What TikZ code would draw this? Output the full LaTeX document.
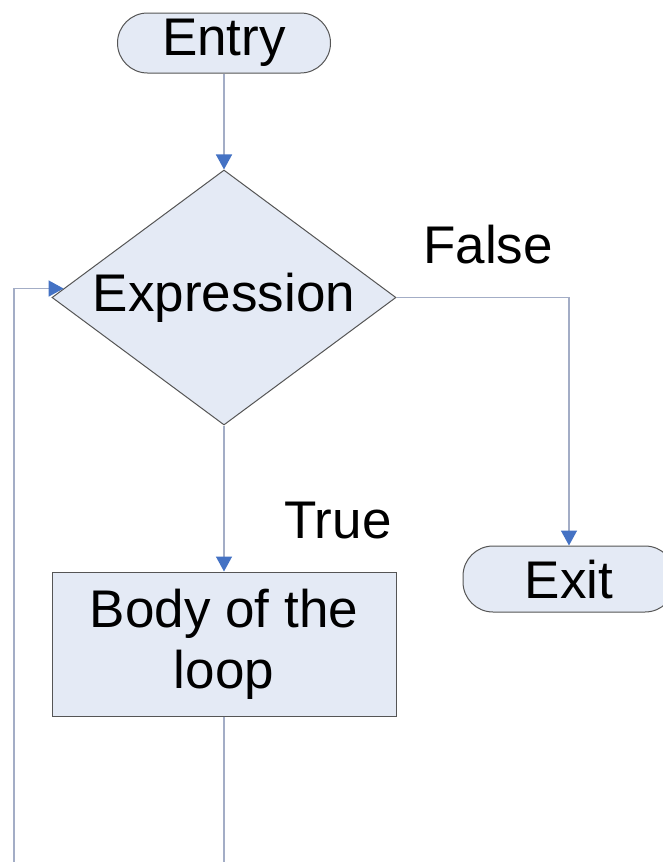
\documentclass[tikz,border=0pt]{standalone}
\usepackage{fontspec}
\setmainfont{Liberation Sans}
\usetikzlibrary{arrows.meta,shapes.geometric,calc}
\definecolor{boxfill}{HTML}{E4EAF5}
\definecolor{boxline}{HTML}{555555}
\definecolor{wire}{HTML}{A3ADC6}
\definecolor{tipblue}{HTML}{4472C4}
\tikzset{
  bigtext/.style={font=\fontsize{53}{61}\selectfont},
  terminal/.style={draw=boxline, fill=boxfill, line width=1pt, rounded corners=30pt,
    inner sep=0pt, bigtext},
  decision/.style={draw=boxline, fill=boxfill, line width=1pt, shape=diamond,
    shape aspect=1.35, inner sep=0pt, minimum width=344pt, minimum height=255pt, bigtext},
  process/.style={draw=boxline, fill=boxfill, line width=1pt, rectangle, inner sep=0pt,
    minimum width=344pt, minimum height=144pt, align=center, bigtext},
  wireline/.style={draw=wire, line width=1.5pt},
  flow/.style={wireline, -{Triangle[length=15pt,width=16pt,color=tipblue]}},
  edgelabel/.style={bigtext, inner sep=0pt}
}
\begin{document}
\begin{tikzpicture}[x=1pt,y=1pt]
  \clip (0,0) rectangle (663,-862);
  \fill[white] (0,0) rectangle (663,-862);

  \node[terminal, minimum width=213pt, minimum height=60pt] (entry) at (224,-43) {Entry};
  \node[decision] (expr) at (224,-297.5) {Expression};
  \node[process] (body) at (224,-644) {Body of the\\loop};
  \node[terminal, minimum width=212pt, minimum height=66pt] (exit) at (569,-579) {Exit};

  \node[edgelabel] (false) at (488,-245) {False};
  \node[edgelabel] (true) at (338,-521) {True};

  \coordinate (bodyout) at (224,-862);
  \coordinate (loopin) at (14,-862);
  \coordinate (exprleft) at ($(expr.west)!0.07!(expr.north)$);

  \draw[flow] (entry) -- (expr);
  \draw[flow] (expr.east) -| (exit.north);
  \draw[flow] (expr.south) -- (body.north);
  \draw[wireline] (body.south) -- (bodyout);
  \draw[flow] (loopin) |- (exprleft);
\end{tikzpicture}
\end{document}
